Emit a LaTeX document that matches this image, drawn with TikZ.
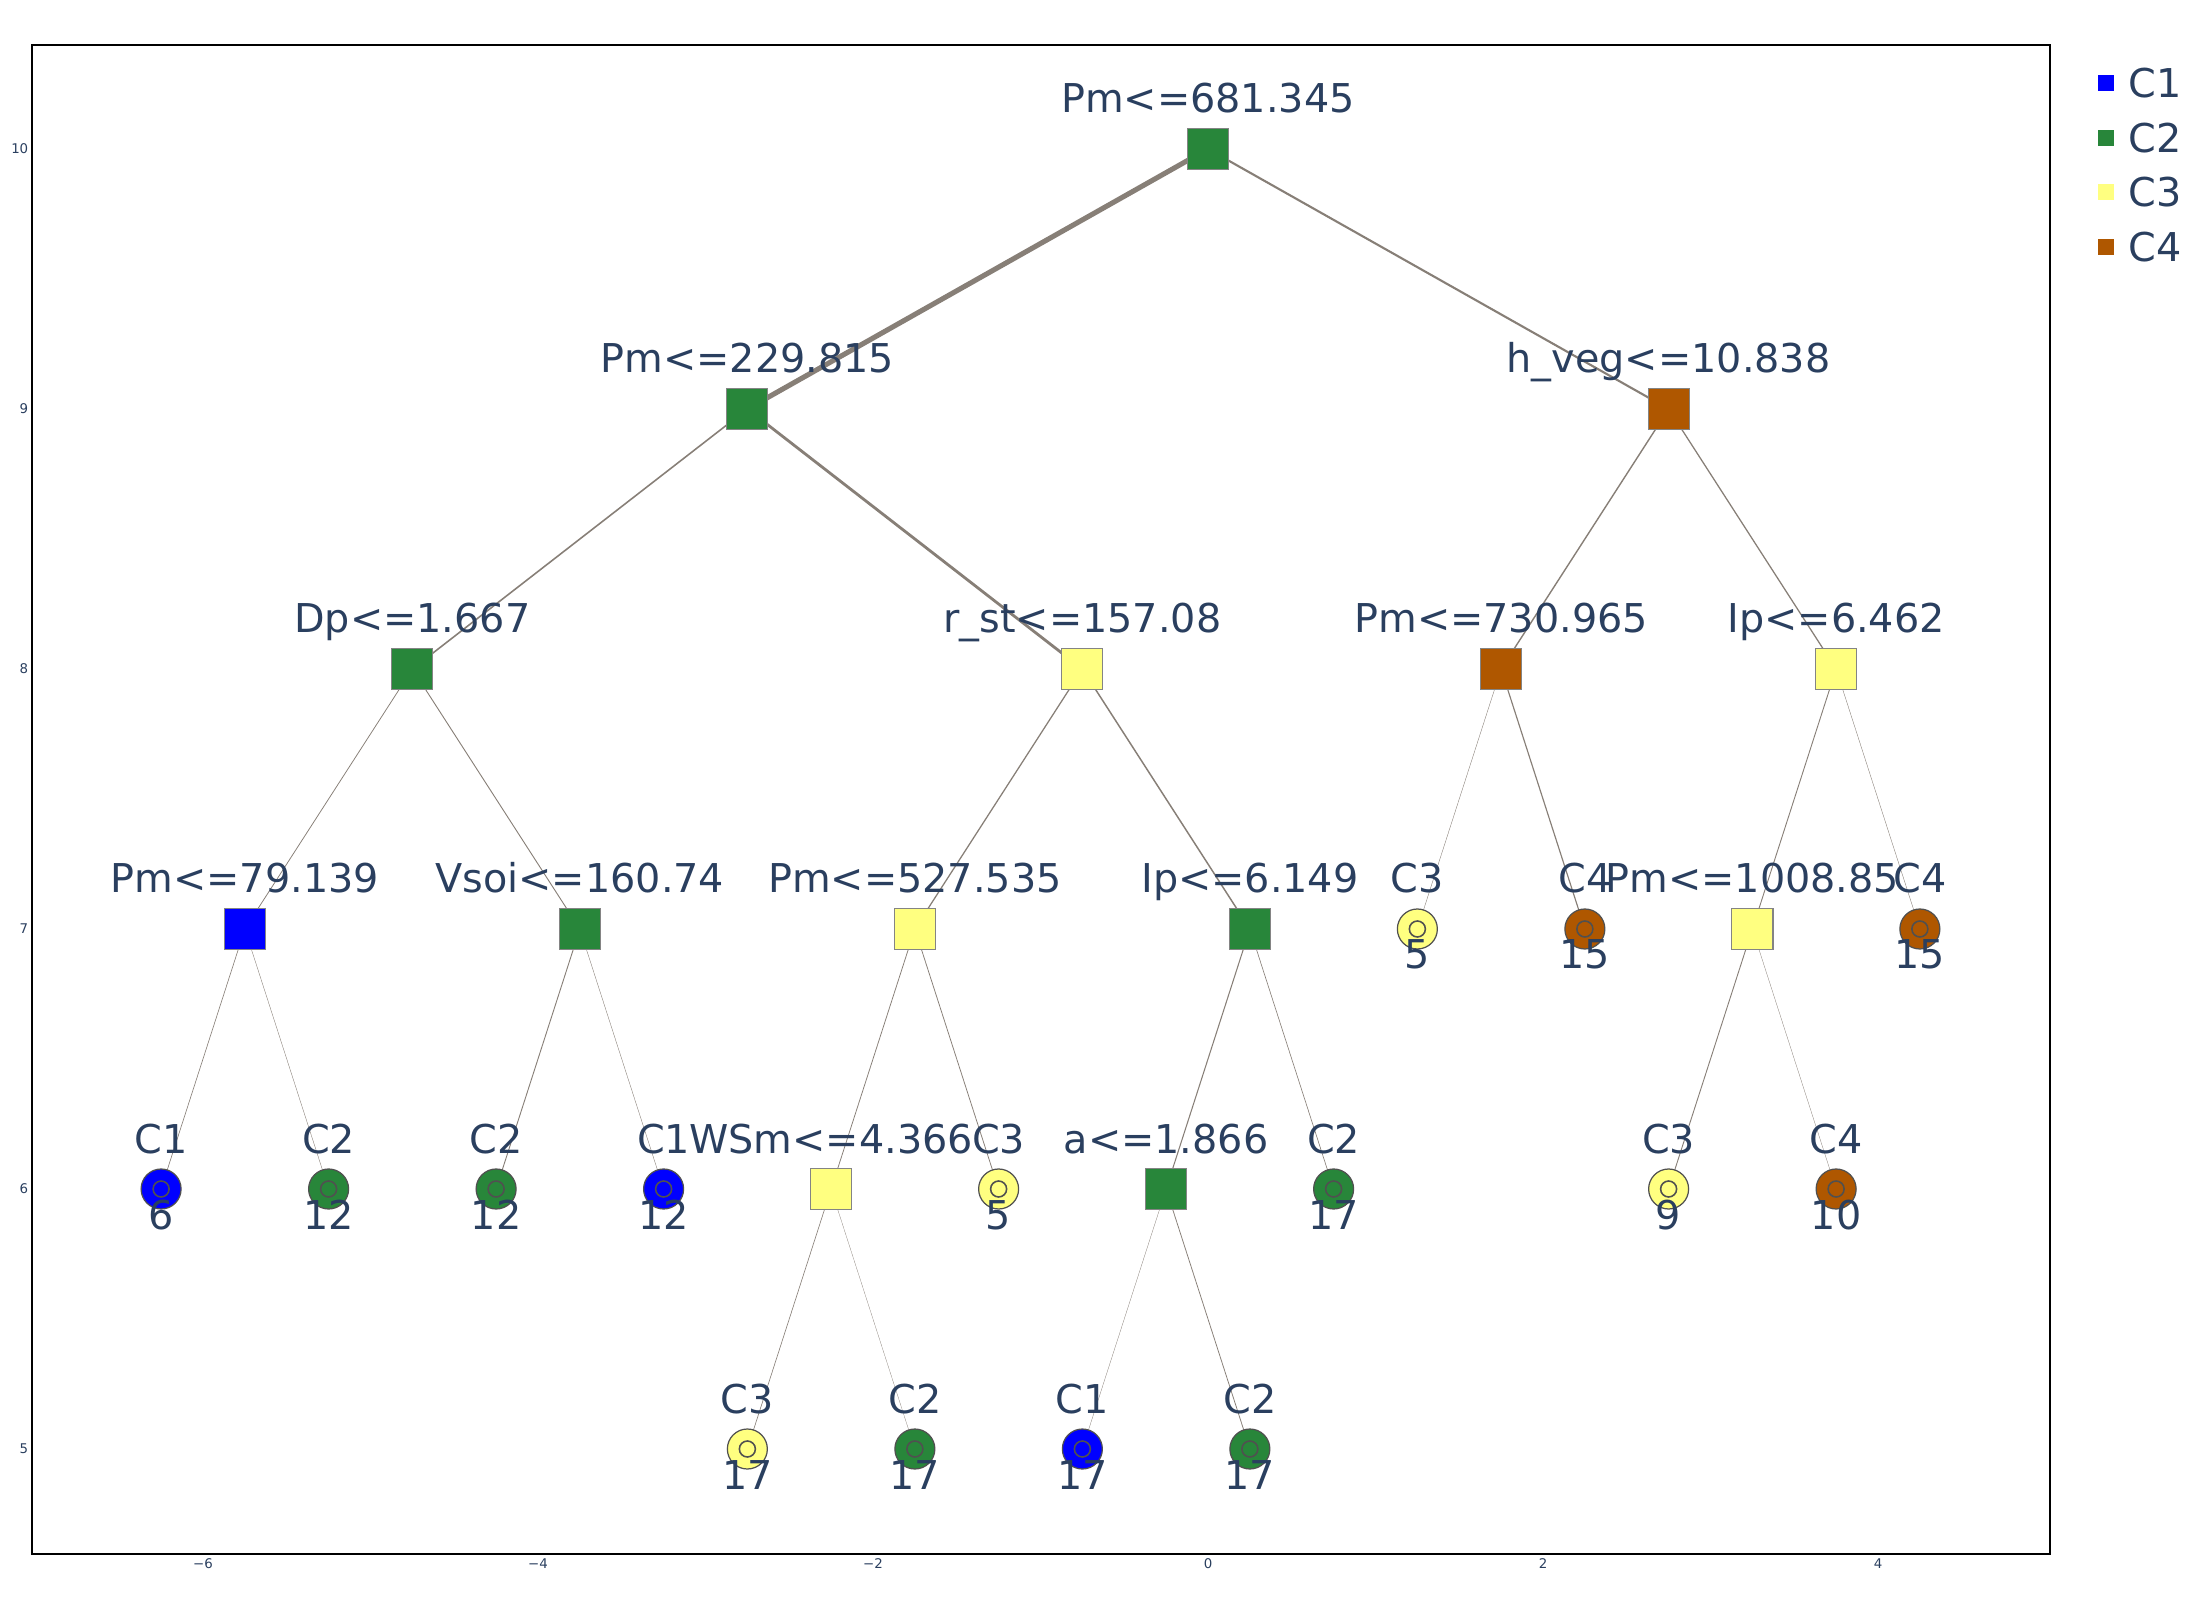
\documentclass[tikz,border=0pt]{standalone}
\usepackage{fontspec}
\setmainfont{DejaVu Sans}
\pgfdeclarelayer{background}
\pgfsetlayers{background,main}

\definecolor{txt}{RGB}{42,63,95}
\definecolor{cone}{RGB}{0,0,255}
\definecolor{ctwo}{RGB}{40,134,58}
\definecolor{cthree}{RGB}{255,255,128}
\definecolor{cfour}{RGB}{175,87,0}
\definecolor{edgecol}{RGB}{135,127,119}
\definecolor{markline}{RGB}{80,80,80}

\newcommand\lblfont{\fontsize{11.3}{13}\selectfont}
\newcommand\tickfont{\fontsize{3.8}{4.5}\selectfont}

\tikzset{
  split/.style={rectangle, minimum size=0.41cm, inner sep=0pt, draw=markline!70, line width=0.35pt},
  leaf/.style={circle, minimum size=0.40cm, inner sep=0pt, draw=markline, line width=0.35pt,
    path picture={\draw[markline, line width=0.45pt] (path picture bounding box.center) circle (0.08cm);}},
  head/.style={anchor=base, inner sep=0pt, text=txt, font=\lblfont, yshift=0.36cm},
  count/.style={anchor=base, inner sep=0pt, text=txt, font=\lblfont, yshift=-0.40cm},
  tree edge/.style={draw=edgecol},
  tick/.style={inner sep=0pt, text=txt, font=\tickfont},
  legsq/.style={rectangle, minimum size=0.16cm, inner sep=0pt},
  legtext/.style={anchor=base west, inner sep=0pt, text=txt, font=\lblfont},
}

\begin{document}
\begin{tikzpicture}[x=1.675cm, y=2.6cm]
\useasboundingbox (-7.2119,4.4192) rectangle (5.9224,10.5731);

% plot frame
\draw[black, line width=0.45pt] (-7.021,4.596) rectangle (5.027,10.4);

% axis tick labels
\foreach \v in {5,...,10}
  \node[tick, anchor=east] (ytick\v) at (-7.039,\v) {\v};
\foreach \v/\t in {-6/−6, -4/−4, -2/−2, 0/0, 2/2, 4/4}
  \node[tick] (xtick\v) at (\v,4.558) {\t};

% split nodes
\node[split, fill=ctwo]   (r)  at (0,10)    {};
\node[split, fill=ctwo]   (a1) at (-2.75,9) {};
\node[split, fill=cfour]  (a2) at (2.75,9)  {};
\node[split, fill=ctwo]   (b1) at (-4.75,8) {};
\node[split, fill=cthree] (b2) at (-0.75,8) {};
\node[split, fill=cfour]  (b3) at (1.75,8)  {};
\node[split, fill=cthree] (b4) at (3.75,8)  {};
\node[split, fill=cone]   (c1) at (-5.75,7) {};
\node[split, fill=ctwo]   (c2) at (-3.75,7) {};
\node[split, fill=cthree] (c3) at (-1.75,7) {};
\node[split, fill=ctwo]   (c4) at (0.25,7)  {};
\node[split, fill=cthree] (c5) at (3.25,7)  {};
\node[split, fill=cthree] (d1) at (-2.25,6) {};
\node[split, fill=ctwo]   (d2) at (-0.25,6) {};

\node[head] (r-t)  at (r.center)  {Pm<=681.345};
\node[head] (a1-t) at (a1.center) {Pm<=229.815};
\node[head] (a2-t) at (a2.center) {h\_veg<=10.838};
\node[head] (b1-t) at (b1.center) {Dp<=1.667};
\node[head] (b2-t) at (b2.center) {r\_st<=157.08};
\node[head] (b3-t) at (b3.center) {Pm<=730.965};
\node[head] (b4-t) at (b4.center) {Ip<=6.462};
\node[head] (c1-t) at (c1.center) {Pm<=79.139};
\node[head] (c2-t) at (c2.center) {Vsoi<=160.74};
\node[head] (c3-t) at (c3.center) {Pm<=527.535};
\node[head] (c4-t) at (c4.center) {Ip<=6.149};
\node[head] (c5-t) at (c5.center) {Pm<=1008.85};
\node[head] (d1-t) at (d1.center) {WSm<=4.366};
\node[head] (d2-t) at (d2.center) {a<=1.866};

% leaves: name / x / y / class / colour / count
\foreach \n/\x/\y/\k/\c/\s in {
    l1/1.25/7/3/cthree/5,   l2/2.25/7/4/cfour/15,   l3/4.25/7/4/cfour/15,
    l4/-6.25/6/1/cone/6,    l5/-5.25/6/2/ctwo/12,   l6/-4.25/6/2/ctwo/12,
    l7/-3.25/6/1/cone/12,   l8/-1.25/6/3/cthree/5,  l9/0.75/6/2/ctwo/17,
    l10/2.75/6/3/cthree/9,  l11/3.75/6/4/cfour/10,
    l12/-2.75/5/3/cthree/17, l13/-1.75/5/2/ctwo/17, l14/-0.75/5/1/cone/17,
    l15/0.25/5/2/ctwo/17} {
  \node[leaf, fill=\c] (\n) at (\x,\y) {};
  \node[head]  (\n-t) at (\n.center) {C\k};
  \node[count] (\n-n) at (\n.center) {\s};
}

% connectors, width following the branch weight
\begin{pgfonlayer}{background}
\foreach \a/\b/\w in {
    r/a1/1.45, r/a2/0.6,
    a1/b1/0.45, a1/b2/0.8, a2/b3/0.4, a2/b4/0.36,
    b1/c1/0.22, b1/c2/0.26, b2/c3/0.36, b2/c4/0.42,
    b3/l1/0.11, b3/l2/0.33, b4/c5/0.26, b4/l3/0.11,
    c1/l4/0.18, c1/l5/0.11, c2/l6/0.26, c2/l7/0.11,
    c3/d1/0.22, c3/l8/0.22, c4/d2/0.3, c4/l9/0.18,
    c5/l10/0.26, c5/l11/0.09,
    d1/l12/0.18, d1/l13/0.08, d2/l14/0.09, d2/l15/0.22}
  \draw[tree edge, line width=\w pt] (\a.center) -- (\b.center);
\end{pgfonlayer}

% legend
\foreach \i/\c/\y in {1/cone/10.254, 2/ctwo/10.042, 3/cthree/9.835, 4/cfour/9.623} {
  \node[legsq, fill=\c] (leg\i) at (5.361,\y) {};
  \node[legtext] (leg\i-t) at ([xshift=0.22cm, yshift=-0.145cm]leg\i.center) {C\i};
}
\end{tikzpicture}
\end{document}
